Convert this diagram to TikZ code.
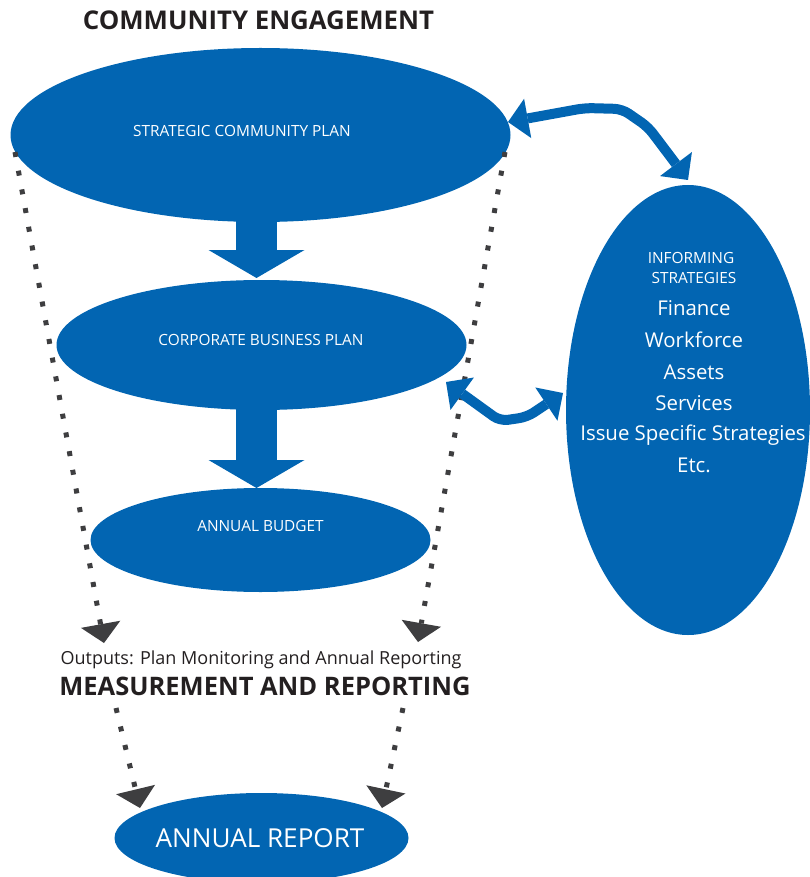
\documentclass[tikz,border=0pt]{standalone}
\usepackage{fontspec}
\setmainfont{Open Sans}
\usetikzlibrary{shapes.geometric,arrows.meta}
\definecolor{cblue}{RGB}{2,101,178}
\definecolor{cdark}{RGB}{35,31,32}
\definecolor{cgrey}{RGB}{62,62,64}
\begin{document}
\begin{tikzpicture}[x=1pt,y=-1pt,
  blob/.style={ellipse, fill=cblue, draw=none, inner sep=0pt},
  lbl/.style={text=white, inner sep=0pt, font=\fontsize{15.4}{17}\selectfont},
  big/.style={text=white, inner sep=0pt, font=\fontsize{20.4}{23}\selectfont},
  heading/.style={text=cdark, inner sep=0pt, font=\bfseries\fontsize{25.8}{30}\selectfont},
  dotline/.style={cgrey, line width=5pt, line cap=butt, dash pattern=on 5pt off 14pt,
     -{Triangle[width=40pt,length=19pt,line width=0pt]}},
  blockarrow/.style={cblue, line width=41pt, -{Triangle[width=96pt,length=28pt,line width=0pt]}},
  curvy/.style={cblue, line width=10pt, rounded corners=8pt,
     {Triangle[width=40pt,length=20pt,line width=0pt]}-{Triangle[width=40pt,length=20pt,line width=0pt]}}
]
\useasboundingbox (0,0) rectangle (810,877);
\clip (0,0) rectangle (810,877);

% ellipses
\node[blob, minimum width=500pt, minimum height=174pt] (scp) at (260.5,135) {};
\node[blob, minimum width=410pt, minimum height=130pt] (cbp) at (261.5,345) {};
\node[blob, minimum width=340pt, minimum height=104pt] (ab) at (260.5,540) {};
\node[blob, minimum width=244pt, minimum height=450pt] (is) at (688,410) {};
\node[blob, minimum width=294pt, minimum height=90pt] (ar) at (261.5,838) {};

% block arrows
\coordinate (b1s) at (256.5,212);
\coordinate (b1e) at (256.5,278);
\coordinate (b2s) at (256.5,402);
\coordinate (b2e) at (256.5,488);
\draw[blockarrow] (b1s) -- (b1e);
\draw[blockarrow] (b2s) -- (b2e);

% labels in ellipses
\node[lbl] (tscp) at (242,131) {STRATEGIC COMMUNITY PLAN};
\node[lbl] (tcbp) at (261,340) {CORPORATE BUSINESS PLAN};
\node[lbl] (tab) at (260.5,526) {ANNUAL BUDGET};
\node[text=white, inner sep=0pt, font=\fontsize{26.1}{29}\selectfont] (tar) at (260,838) {ANNUAL REPORT};
\node[lbl] (tis1) at (691,258) {INFORMING};
\node[lbl] (tis2) at (694,278) {STRATEGIES};
\node[big] (f1) at (694,308) {Finance};
\node[big] (f2) at (694,340) {Workforce};
\node[big] (f3) at (694,372) {Assets};
\node[big] (f4) at (694,403) {Services};
\node[big] (f5) at (693,435) {Issue Specific Strategies};
\node[big] (f6) at (694,465) {Etc.};

% headings
\node[heading] (ce) at (258.5,20) {COMMUNITY ENGAGEMENT};
\node[text=cdark, inner sep=0pt, font=\fontsize{18}{22}\selectfont] (out) at (261,660) {Outputs: Plan Monitoring and Annual Reporting};
\node[heading, font=\bfseries\fontsize{25.5}{28}\selectfont] (mr) at (265,686) {MEASUREMENT AND REPORTING};

% dotted connectors
\coordinate (d1s) at (15,152);
\coordinate (d1e) at (104,643);
\coordinate (d2s) at (505,152);
\coordinate (d2e) at (418,642);
\coordinate (d3s) at (116,708);
\coordinate (d3e) at (140,808);
\coordinate (d4s) at (403,708);
\coordinate (d4e) at (382,808);
\draw[dotline] (d1s) -- (d1e);
\draw[dotline] (d2s) -- (d2e);
\draw[dotline] (d3s) -- (d3e);
\draw[dotline] (d4s) -- (d4e);

% curved double arrows
\coordinate (c1a) at (508,122);
\coordinate (c1b) at (688,180);
\coordinate (c2a) at (446,382);
\coordinate (c2b) at (563,393);
\draw[curvy] (c1a) -- (585,108) -- (622,109) -- (648,127) -- (c1b);
\draw[curvy] (c2a) -- (500,421) -- (527,417) -- (c2b);
\end{tikzpicture}
\end{document}
